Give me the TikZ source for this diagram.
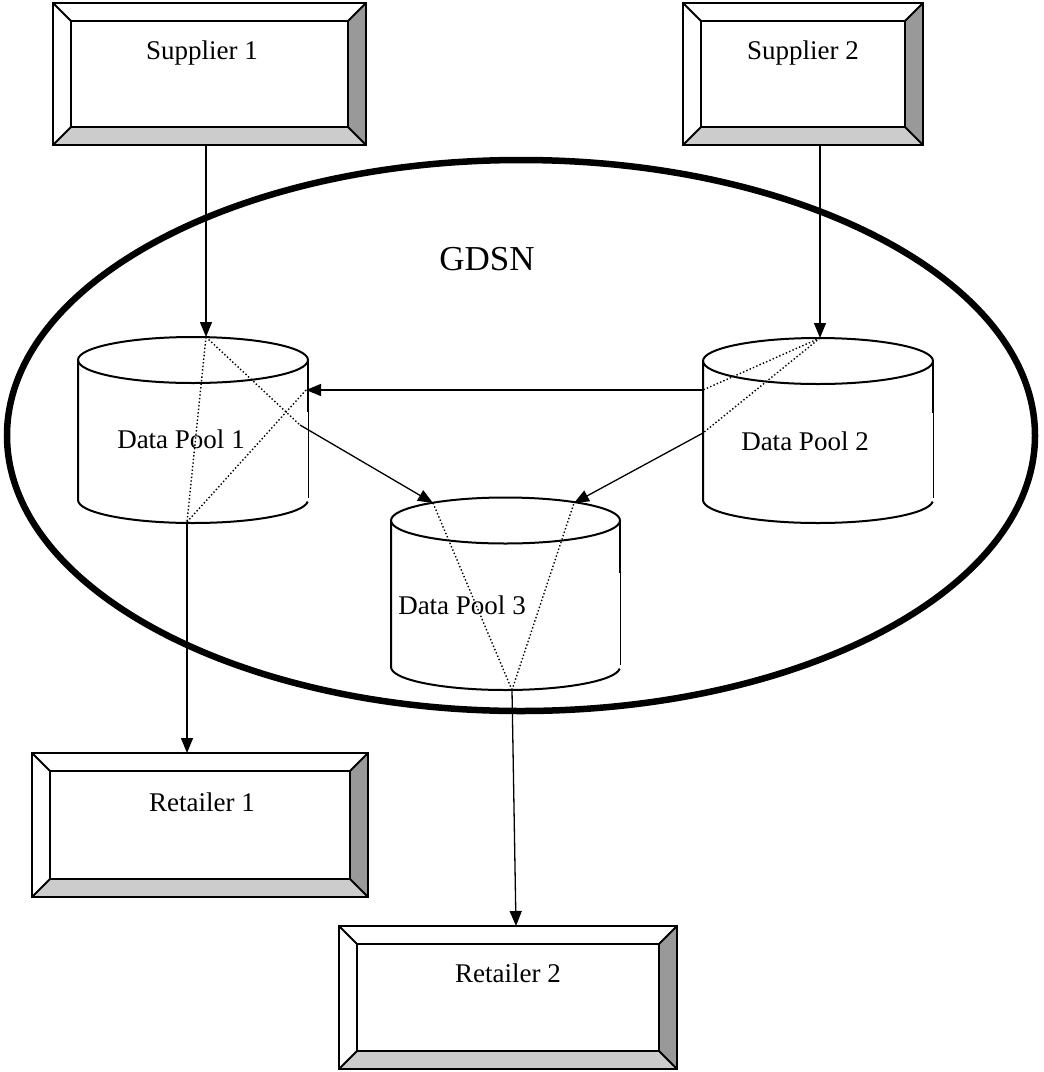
\documentclass[tikz,border=0pt]{standalone}
\usepackage{fontspec}
\setmainfont{Liberation Serif}
\usetikzlibrary{arrows.meta,calc}
\definecolor{bevlight}{HTML}{CCCCCC}
\definecolor{bevdark}{HTML}{999999}

% bevelled box drawn around a named rectangular node
\newcommand\bevelframe[1]{%
  \coordinate (#1-i1) at ($(#1.north west)+(18,18)$);
  \coordinate (#1-i2) at ($(#1.north east)+(-18,18)$);
  \coordinate (#1-i3) at ($(#1.south east)+(-18,-18)$);
  \coordinate (#1-i4) at ($(#1.south west)+(18,-18)$);
  \fill[bevlight] (#1.south west) -- (#1.south east) -- (#1-i3) -- (#1-i4) -- cycle;
  \fill[bevdark] (#1.north east) -- (#1.south east) -- (#1-i3) -- (#1-i2) -- cycle;
  \draw[boxline] (#1.north west) rectangle (#1.south east);
  \draw[boxline] (#1-i1) rectangle (#1-i3);
  \draw[boxline] (#1.north west) -- (#1-i1) (#1.north east) -- (#1-i2)
                 (#1.south east) -- (#1-i3) (#1.south west) -- (#1-i4);
}

% data pool cylinder: name, centre x, top rim y, bottom rim y, half width
\newcommand\poolcyl[5]{%
  \node[cylbody, minimum width=2*#5, minimum height=#4-#3] (#1) at (#2,{(#3+#4)/2}) {};
  \draw[boxline] (#1.north) ellipse [x radius=#5pt, y radius=23pt];
  \draw[boxline] (#1.north west) -- (#1.south west)
     arc [start angle=180, end angle=356, x radius=#5pt, y radius=23pt];
  \draw[boxline] (#1.north east) -- ($(#1.north east)+(0,52)$);
  \draw[line width=0.6pt] ($(#1.north east)+(0,52)$) -- ($(#1.south east)+(0,-2)$);
}

\begin{document}
\begin{tikzpicture}[x=1pt,y=-1pt,
  boxline/.style={line width=2pt, line join=miter},
  frame/.style={draw=none, inner sep=0pt, outer sep=0pt},
  cylbody/.style={draw=none, inner sep=0pt, outer sep=0pt},
  lbl/.style={font=\fontsize{27}{31}\selectfont, inner sep=0pt},
  flow/.style={line width=1.3pt, -{Triangle[length=15pt,width=12pt]}},
  route/.style={line width=1.4pt, dash pattern=on 1.4pt off 2.2pt}]

\useasboundingbox (0,0) rectangle (1044,1072);

% network boundary
\draw[line width=6.5pt] (521,435.5) ellipse [x radius=514pt, y radius=275.5pt];
\node[font=\fontsize{35}{40}\selectfont, inner sep=0pt] (gdsn) at (487,259) {GDSN};

% suppliers and retailers
\node[frame, minimum width=313pt, minimum height=142pt] (sup1) at (209.5,74) {};
\node[frame, minimum width=240pt, minimum height=142pt] (sup2) at (803,74) {};
\node[frame, minimum width=336pt, minimum height=144pt] (ret1) at (200,825) {};
\node[frame, minimum width=338pt, minimum height=143pt] (ret2) at (508,997.5) {};
\bevelframe{sup1}
\bevelframe{sup2}
\bevelframe{ret1}
\bevelframe{ret2}
\node[lbl] (sup1t) at (202,53) {Supplier 1};
\node[lbl] (sup2t) at (803,53) {Supplier 2};
\node[lbl] (ret1t) at (202,802) {Retailer 1};
\node[lbl] (ret2t) at (508,973) {Retailer 2};

% data pools
\poolcyl{dp1}{193}{360}{500}{115}
\poolcyl{dp2}{818}{361}{500}{115}
\poolcyl{dp3}{505.5}{520.5}{667}{114.5}
\node[lbl] (dp1t) at (181,439) {Data Pool 1};
\node[lbl] (dp2t) at (805,441) {Data Pool 2};
\node[lbl] (dp3t) at (462,605) {Data Pool 3};

% ports on the pools
\coordinate (dp1top) at (206,337);
\coordinate (dp1bot) at (187,522);
\coordinate (dp1in)  at (306,390);
\coordinate (dp1out) at (300,425);
\coordinate (dp2top) at (820,338);
\coordinate (dp2outa) at (703,390);
\coordinate (dp2outb) at (703,433);
\coordinate (dp3ina) at (433,503);
\coordinate (dp3inb) at (574,503);
\coordinate (dp3bot) at (512,690);

% internal routing through each pool
\draw[route] (dp1top) -- (dp1bot);
\draw[route] (dp1top) -- (dp1out);
\draw[route] (dp1bot) -- (dp1in);
\draw[route] (dp2top) -- (dp2outa);
\draw[route] (dp2top) -- (dp2outb);
\draw[route] (dp3bot) -- (dp3ina);
\draw[route] (dp3bot) -- (dp3inb);

% data flows
\draw[flow] (sup1.south -| dp1top) -- (dp1top);
\draw[flow] (sup2.south -| dp2top) -- (dp2top);
\draw[flow] (dp2outa) -- (dp1in);
\draw[flow] (dp1out) -- (dp3ina);
\draw[flow] (dp2outb) -- (dp3inb);
\draw[flow] (dp1bot) -- (dp1bot |- ret1.north);
\draw[flow] (dp3bot) -- (516,926);
\end{tikzpicture}
\end{document}
